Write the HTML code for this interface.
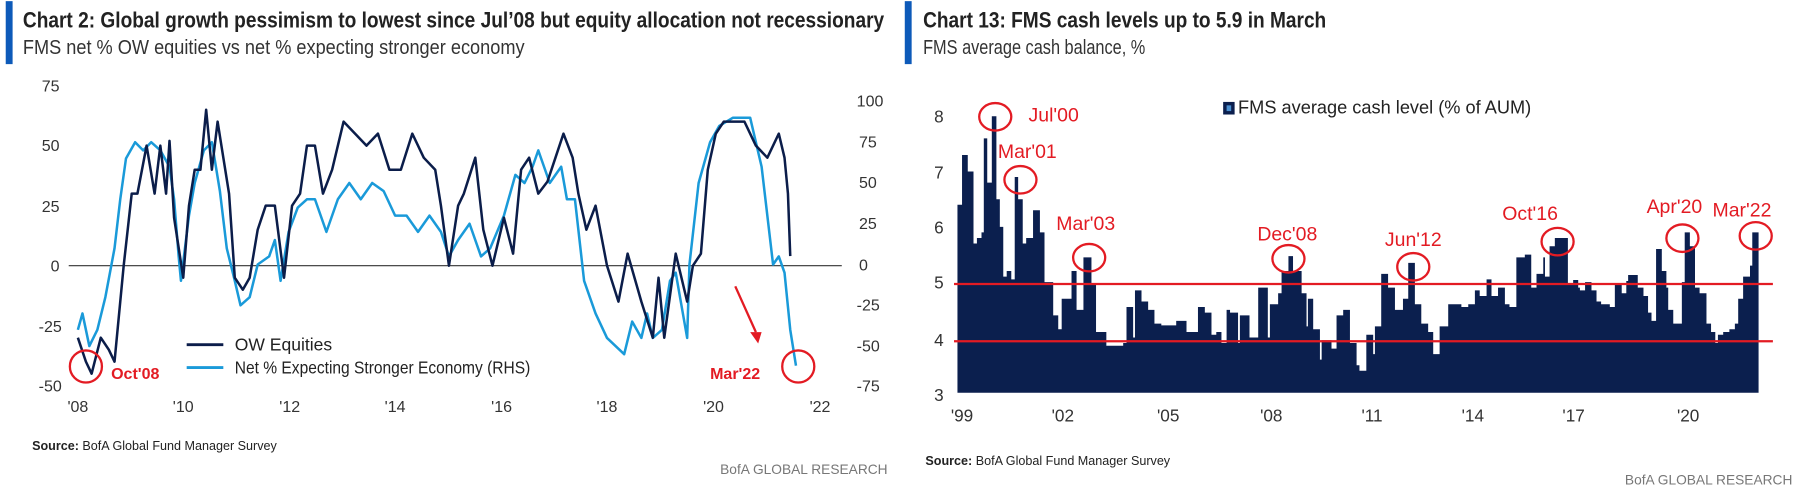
<!DOCTYPE html>
<html><head><meta charset="utf-8"><style>
html,body{margin:0;padding:0;background:#fff;}
svg{display:block;font-family:"Liberation Sans Narrow","Liberation Sans",sans-serif;}
</style></head><body>
<svg id="s" width="1795" height="497" viewBox="0 0 1567.3 434" preserveAspectRatio="none" xmlns="http://www.w3.org/2000/svg">
<rect width="1567.3" height="434" fill="#fff"/>
<rect x="5" y="1" width="6" height="55" fill="#0d5ab9"/>
<text x="20" y="24" font-size="19" font-weight="bold" fill="#222" textLength="752" lengthAdjust="spacingAndGlyphs">Chart 2: Global growth pessimism to lowest since Jul’08 but equity  allocation not recessionary</text>
<text x="20" y="47" font-size="18" fill="#333" textLength="438" lengthAdjust="spacingAndGlyphs">FMS net % OW equities vs net % expecting stronger economy</text>
<rect x="790" y="1" width="6" height="55" fill="#0d5ab9"/>
<text x="806" y="24" font-size="19" font-weight="bold" fill="#222" textLength="352" lengthAdjust="spacingAndGlyphs">Chart 13: FMS cash levels up to 5.9 in March</text>
<text x="806" y="47" font-size="18" fill="#333" textLength="194" lengthAdjust="spacingAndGlyphs">FMS average cash balance, %</text>

<g font-size="14" fill="#333">
<text x="52" y="80" text-anchor="end">75</text>
<text x="52" y="132" text-anchor="end">50</text>
<text x="52" y="185" text-anchor="end">25</text>
<text x="52" y="237" text-anchor="end">0</text>
<text x="54" y="290" text-anchor="end">-25</text>
<text x="54" y="342" text-anchor="end">-50</text>
<text x="748" y="93">100</text>
<text x="750" y="129">75</text>
<text x="750" y="164">50</text>
<text x="750" y="200">25</text>
<text x="750" y="236">0</text>
<text x="748" y="271">-25</text>
<text x="748" y="307">-50</text>
<text x="748" y="342">-75</text>
<g text-anchor="middle">
<text x="68" y="360">'08</text><text x="160" y="360">'10</text><text x="253" y="360">'12</text><text x="345" y="360">'14</text>
<text x="438" y="360">'16</text><text x="530" y="360">'18</text><text x="623" y="360">'20</text><text x="716" y="360">'22</text>
</g>
</g>
<line x1="60" y1="232" x2="735" y2="232" stroke="#333" stroke-width="1"/>
<g id="lines"></g>
<line x1="163" y1="301" x2="195" y2="301" stroke="#0b1d4a" stroke-width="2.5"/>
<text x="205" y="306" font-size="15" fill="#222" textLength="85" lengthAdjust="spacingAndGlyphs">OW Equities</text>
<line x1="163" y1="321" x2="195" y2="321" stroke="#1a9ad9" stroke-width="2.5"/>
<text x="205" y="326" font-size="15" fill="#222" textLength="258" lengthAdjust="spacingAndGlyphs">Net % Expecting Stronger Economy (RHS)</text>
<circle cx="75" cy="320" r="14" fill="none" stroke="#e31b23" stroke-width="2"/>
<text x="97" y="331" font-size="14" font-weight="bold" fill="#e31b23">Oct'08</text>
<circle cx="697" cy="320" r="14" fill="none" stroke="#e31b23" stroke-width="2"/>
<text x="620" y="331" font-size="14" font-weight="bold" fill="#e31b23">Mar'22</text>
<line x1="642" y1="250" x2="660" y2="290" stroke="#e31b23" stroke-width="2"/>
<polygon points="655,290 665,290 662,300" fill="#e31b23"/>
<text x="28" y="393" font-size="11" fill="#222"><tspan font-weight="bold">Source:</tspan>  BofA Global Fund Manager Survey</text>
<text x="775" y="414" font-size="12" fill="#777" text-anchor="end">BofA GLOBAL RESEARCH</text>

<g font-size="15" fill="#333" text-anchor="end">
<text x="824" y="107">8</text><text x="824" y="156">7</text><text x="824" y="204">6</text>
<text x="824" y="252">5</text><text x="824" y="302">4</text><text x="824" y="350">3</text>
</g>
<g font-size="15" fill="#333" text-anchor="middle">
<text x="840" y="368">'99</text><text x="928" y="368">'02</text><text x="1020" y="368">'05</text><text x="1110" y="368">'08</text>
<text x="1198" y="368">'11</text><text x="1286" y="368">'14</text><text x="1374" y="368">'17</text><text x="1474" y="368">'20</text>
</g>
<g id="bars" fill="#0b1f4e"></g>
<line x1="833" y1="248" x2="1548" y2="248" stroke="#e31b23" stroke-width="2"/>
<line x1="833" y1="298" x2="1548" y2="298" stroke="#e31b23" stroke-width="2"/>
<rect x="1068" y="89" width="10" height="11" fill="#0b1f4e"/><rect x="1071" y="92" width="4" height="5" fill="#4a8fd0"/>
<text x="1081" y="99" font-size="16" fill="#222" textLength="256" lengthAdjust="spacingAndGlyphs">FMS average cash level (% of AUM)</text>
<g fill="none" stroke="#e31b23" stroke-width="2">
<ellipse cx="869" cy="102" rx="14" ry="12"/>
<ellipse cx="891" cy="157" rx="14" ry="12"/>
<ellipse cx="951" cy="225" rx="14" ry="12"/>
<ellipse cx="1125" cy="226" rx="14" ry="12"/>
<ellipse cx="1234" cy="233" rx="14" ry="12"/>
<ellipse cx="1360" cy="211" rx="14" ry="12"/>
<ellipse cx="1469" cy="208" rx="14" ry="12"/>
<ellipse cx="1533" cy="206" rx="14" ry="12"/>
</g>
<g font-size="17" fill="#e31b23" text-anchor="middle">
<text x="920" y="106">Jul'00</text>
<text x="897" y="138">Mar'01</text>
<text x="948" y="201">Mar'03</text>
<text x="1124" y="210">Dec'08</text>
<text x="1234" y="215">Jun'12</text>
<text x="1336" y="192">Oct'16</text>
<text x="1462" y="186">Apr'20</text>
<text x="1521" y="189">Mar'22</text>
</g>
<text x="808" y="406" font-size="11" fill="#222"><tspan font-weight="bold">Source:</tspan>  BofA Global Fund Manager Survey</text>
<text x="1565" y="423" font-size="12" fill="#777" text-anchor="end">BofA GLOBAL RESEARCH</text>
</svg>
<script>
var NS="http://www.w3.org/2000/svg";
function path(pts,f,col){var d="";pts.forEach(function(p,i){d+=(i?"L":"M")+p[0]+","+f(p[1]).toFixed(1);});
var e=document.createElementNS(NS,"path");e.setAttribute("d",d);e.setAttribute("fill","none");e.setAttribute("stroke",col);e.setAttribute("stroke-width","2.2");e.setAttribute("stroke-linejoin","round");document.getElementById("lines").appendChild(e);}
var light=[[68,-40],[72,-30],[78,-50],[85,-40],[92,-20],[100,10],[105,40],[110,65],[118,75],[125,70],[132,75],[140,70],[148,60],[152,40],[156,5],[158,-10],[165,30],[170,50],[178,70],[185,75],[192,45],[198,10],[205,-10],[210,-25],[218,-20],[225,0],[235,5],[240,15],[245,-10],[252,20],[260,35],[268,40],[275,40],[285,20],[295,40],[305,50],[315,40],[325,50],[335,45],[345,30],[355,30],[365,20],[375,30],[385,20],[392,5],[400,15],[410,25],[420,5],[428,10],[440,30],[450,55],[458,50],[465,60],[470,70],[480,50],[490,60],[495,40],[502,40],[510,-10],[520,-30],[530,-45],[545,-55],[552,-35],[560,-45],[565,-30],[570,-45],[578,-40],[585,-10],[590,-5],[600,-45],[602,0],[610,50],[620,75],[628,85],[640,90],[655,90],[665,60],[670,30],[675,0],[680,5],[685,-5],[690,-40],[695,-62]];
var dark=[[68,-30],[75,-40],[80,-45],[88,-30],[95,-35],[100,-40],[108,0],[115,30],[120,30],[128,50],[135,30],[140,50],[145,30],[148,52],[152,20],[160,-5],[165,25],[170,40],[175,40],[180,65],[185,40],[190,60],[195,45],[200,30],[205,-5],[212,-10],[218,-5],[225,15],[232,25],[240,25],[248,-5],[255,25],[262,30],[268,50],[275,50],[282,30],[290,40],[300,60],[310,55],[320,50],[330,55],[340,40],[350,40],[360,55],[370,45],[380,40],[385,25],[392,0],[400,25],[405,30],[415,45],[422,15],[430,0],[440,20],[448,5],[455,40],[462,45],[470,30],[478,35],[485,45],[492,55],[500,45],[505,30],[512,15],[520,25],[530,0],[540,-15],[548,5],[560,-15],[570,-30],[575,-5],[580,-30],[590,5],[600,-15],[605,0],[612,5],[618,40],[625,55],[632,60],[640,60],[650,60],[660,50],[670,45],[680,55],[685,45],[688,30],[690,4]];
path(light,function(v){return 231-v*1.424;},"#1a9ad9");
path(dark,function(v){return 232-v*2.096;},"#0b1d4a");
var K=[[836,6.4],[840,7.3],[845,7.0],[850,5.7],[853,5.8],[857,5.9],[859,7.6],[862,6.8],[866,8.0],[870,6.5],[873,6.0],[876,5.1],[879,5.2],[883,5.05],[886,6.9],[889,6.5],[893,5.7],[896,5.8],[902,6.3],[908,5.9],[912,5.0],[919.6,4.4],[924,4.15],[927,4.7],[935.6,5.2],[940,4.5],[946,5.45],[953,4.95],[957,4.1],[966,3.85],[980.7,3.9],[983.6,4.55],[989.4,4.0],[991,4.85],[996.7,4.65],[1002.5,4.5],[1008,4.25],[1014,4.22],[1027,4.3],[1036,4.1],[1046,4.55],[1052,4.45],[1057.8,4.05],[1062,4.1],[1066.5,3.9],[1071,4.5],[1074,4.45],[1081,3.9],[1082.6,4.4],[1091,4.0],[1098.6,4.9],[1107,4.0],[1108.8,4.6],[1116,4.8],[1119,5.2],[1125,5.47],[1129,5.2],[1136.5,4.8],[1140.8,4.2],[1142,4.7],[1146.6,4.15],[1152.5,3.6],[1154,3.95],[1162.6,3.8],[1167,4.4],[1172.8,4.5],[1178.7,3.9],[1184.5,3.5],[1187,3.4],[1193,4.05],[1199,3.7],[1200.5,4.2],[1206,5.15],[1212,4.9],[1218,4.5],[1225,4.7],[1229.6,5.35],[1235.4,4.6],[1241,4.25],[1247,4.1],[1251.4,3.7],[1257,4.2],[1264.5,4.6],[1276,4.55],[1282,4.6],[1287.8,4.85],[1292,4.75],[1298,5.05],[1302.3,4.75],[1308,4.9],[1314,4.6],[1318,4.55],[1324,5.45],[1331.4,5.5],[1337,4.9],[1341.6,5.15],[1347.5,5.45],[1349,5.1],[1353,5.65],[1357.6,5.8],[1369,4.97],[1373.6,5.04],[1378,4.9],[1379.5,4.85],[1384,5.0],[1389.6,4.85],[1394,4.65],[1398,4.6],[1405.6,4.55],[1410,4.98],[1416,4.8],[1420,5.02],[1421.6,5.13],[1430,4.9],[1435,4.75],[1439,4.45],[1442,4.3],[1446,5.6],[1451,5.2],[1455,4.9],[1456.6,4.5],[1461,4.25],[1468.5,5.0],[1471,5.9],[1475.5,5.65],[1480,4.9],[1484,4.8],[1490,4.25],[1494,4.1],[1497.7,3.9],[1500,4.05],[1504.6,4.1],[1510,4.15],[1514.8,4.25],[1517.7,4.7],[1522,5.1],[1528,5.3],[1530,5.9],[1535.5,0]];
var g=document.getElementById("bars"),d="";
for(var i=0;i<K.length-1;i++){var x0=K[i][0],x1=K[i+1][0],v=K[i][1],y=343-(v-3)*48.3;
d+="M"+x0+","+y.toFixed(1)+"H"+x1+"V343H"+x0+"Z";}
var p=document.createElementNS(NS,"path");p.setAttribute("d",d);g.appendChild(p);
</script>
</body></html>
